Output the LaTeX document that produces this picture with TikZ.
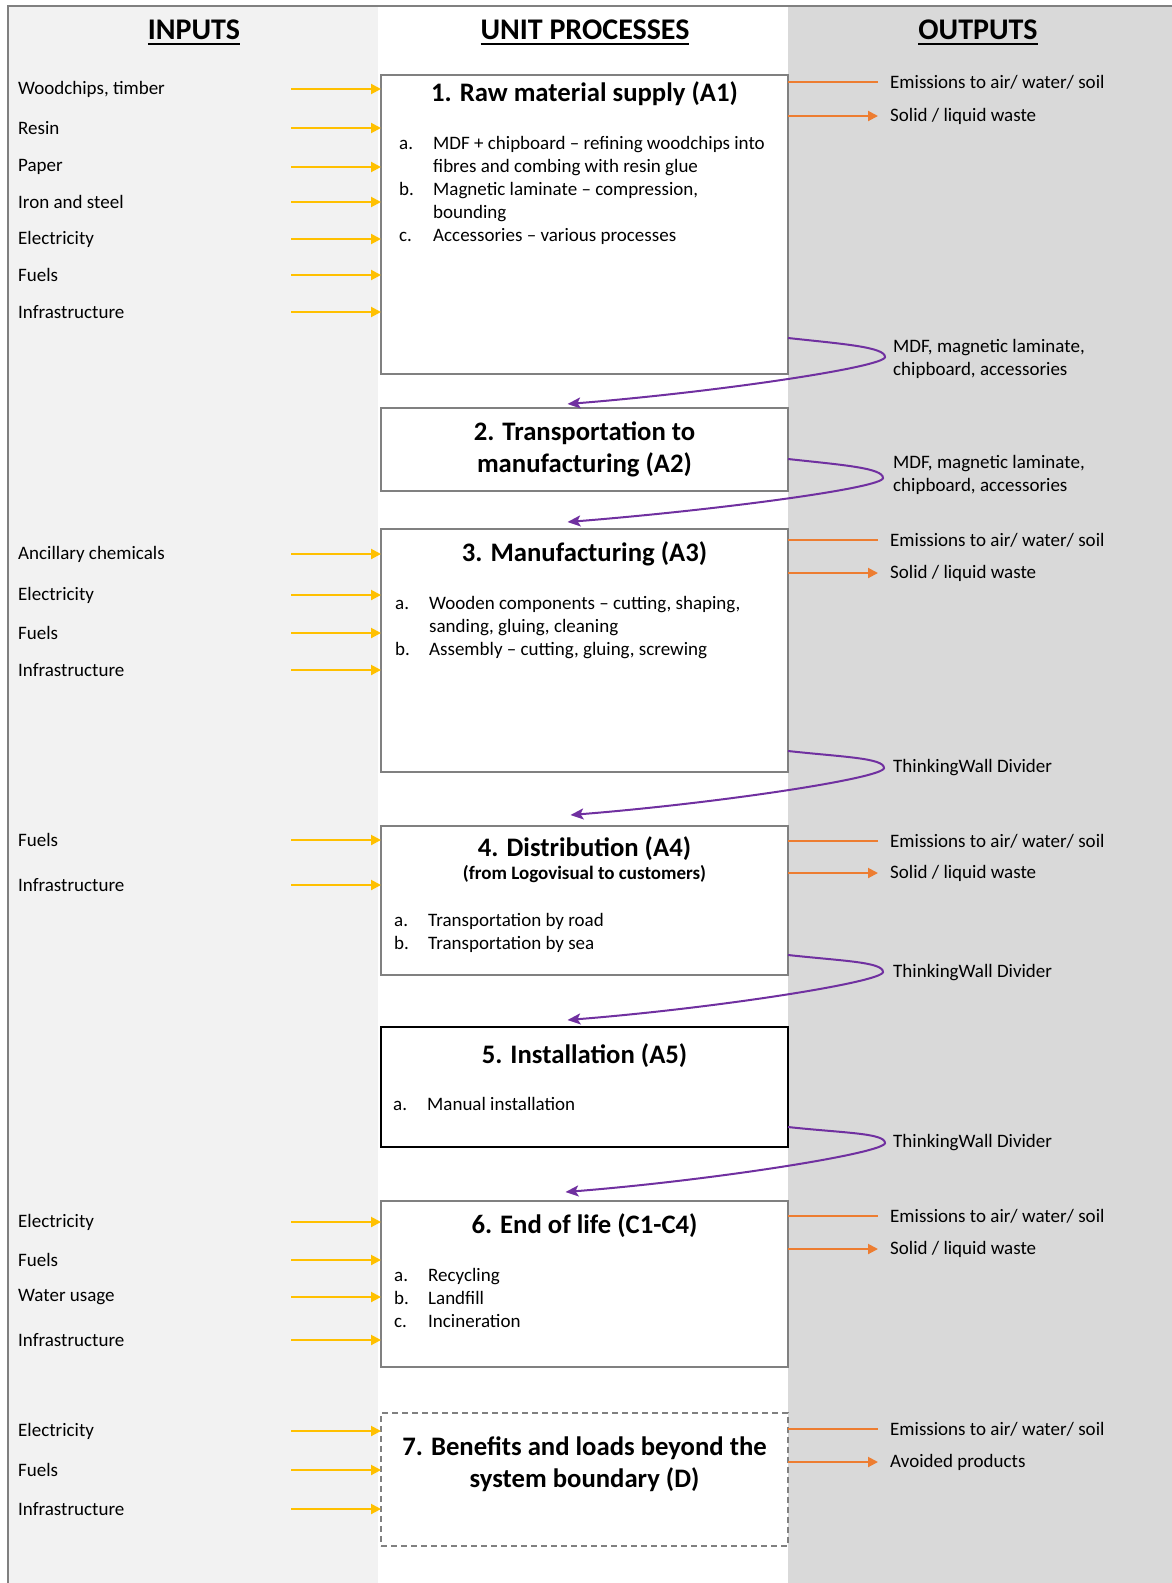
\documentclass[tikz,border=0pt]{standalone}
\usepackage{fontspec}
\setmainfont{Carlito}
\usetikzlibrary{positioning, arrows.meta}
\definecolor{feedyellow}{HTML}{FFC000}
\definecolor{emitorange}{HTML}{ED7D31}
\definecolor{flowpurple}{HTML}{7030A0}
\definecolor{boxgray}{HTML}{808080}
\definecolor{inbg}{HTML}{F2F2F2}
\definecolor{outbg}{HTML}{D9D9D9}
\newcommand{\hdrline}[1]{\setbox0\hbox{#1}\rlap{\rule[-6pt]{\wd0}{2pt}}\box0}
\newcommand{\itm}[1]{\makebox[34pt][l]{#1}}
\tikzset{
	proc/.style={
		rectangle,
		draw=boxgray,
		line width=2pt,
		fill=white,
		anchor=north west,
		inner sep=0pt,
		outer sep=0pt,
		minimum width=407pt,
	},
	head/.style={
		font=\fontsize{30}{36}\selectfont\bfseries,
		inner sep=0pt,
		anchor=base,
	},
	ptitle/.style={
		font=\fontsize{26.7}{32}\selectfont\bfseries,
		inner sep=0pt,
		anchor=base,
	},
	psub/.style={
		font=\fontsize{19}{23}\selectfont\bfseries,
		inner sep=0pt,
	},
	plist/.style={
		font=\fontsize{19}{23}\selectfont,
		inner sep=0pt,
		anchor=base west,
	},
	inlbl/.style={
		font=\fontsize{19}{23}\selectfont,
		inner sep=0pt,
		anchor=west,
	},
	outlbl/.style={
		font=\fontsize{19}{23}\selectfont,
		inner sep=0pt,
		anchor=west,
		align=left,
	},
	feed/.style={
		draw=feedyellow,
		line width=2pt,
		-{Triangle[length=10pt,width=10pt]},
	},
	emit/.style={
		draw=emitorange,
		line width=2pt,
	},
	waste/.style={
		draw=emitorange,
		line width=2pt,
		-{Triangle[length=10pt,width=10pt]},
	},
	flow/.style={
		draw=flowpurple,
		line width=2pt,
		-{Stealth[length=13pt,width=11pt,inset=3pt]},
	},
	frame/.style={
		draw=boxgray,
		line width=2pt,
	},
}
\begin{document}
\begin{tikzpicture}[x=1pt, y=1pt]
		\useasboundingbox (0,0) rectangle (1172,-1583);
		\fill [inbg] (8,-6) rectangle (378,-1583);
		\fill [outbg] (788,-6) rectangle (1172,-1583);
		\draw [frame] (8,-1583) -- (8,-6) -- (1172,-6);
		\node [head] (hin) at (194,-39) {\hdrline{INPUTS}};
		\node [head] (hunit) at (585,-39) {\hdrline{UNIT PROCESSES}};
		\node [head] (hout) at (978,-39) {\hdrline{OUTPUTS}};
		\node [proc, minimum height=299pt] (a1) at (381,-75) {};
		\node [proc, minimum height=83pt] (a2) at (381,-408) {};
		\node [proc, minimum height=243pt] (a3) at (381,-529) {};
		\node [proc, minimum height=149pt] (a4) at (381,-826) {};
		\node [proc, minimum height=120pt, draw=black] (a5) at (381,-1027) {};
		\node [proc, minimum height=166pt] (a6) at (381,-1201) {};
		\node [proc, minimum height=133pt, line width=1.5pt, dash pattern=on 6pt off 4pt] (a7) at (381,-1413) {};
		\node [ptitle] (t1) at ([yshift=-26pt]a1.north) {1. Raw material supply (A1)};
		\node [ptitle] (t2) at ([yshift=-32pt]a2.north) {\begin{tabular}[t]{@{}c@{}}2. Transportation to\\ manufacturing (A2)\end{tabular}};
		\node [ptitle] (t3) at ([yshift=-32pt]a3.north) {3. Manufacturing (A3)};
		\node [ptitle] (t4) at ([yshift=-30pt]a4.north) {4. Distribution (A4)};
		\node [psub, below=5pt of t4] (s4) {(from Logovisual to customers)};
		\node [ptitle] (t5) at ([yshift=-36pt]a5.north) {5. Installation (A5)};
		\node [ptitle] (t6) at ([yshift=-32pt]a6.north) {6. End of life (C1-C4)};
		\node [ptitle] (t7) at ([yshift=-42pt]a7.north) {\begin{tabular}[t]{@{}c@{}}7. Benefits and loads beyond the\\ system boundary (D)\end{tabular}};
		\node [plist] (l1) at ([xshift=18pt,yshift=-74pt]a1.north west) {\begin{tabular}[t]{@{}l@{}}\itm{a.}MDF + chipboard -- refining woodchips into\\ \itm{}fibres and combing with resin glue\\ \itm{b.}Magnetic laminate -- compression,\\ \itm{}bounding\\ \itm{c.}Accessories -- various processes\end{tabular}};
		\node [plist] (l3) at ([xshift=14pt,yshift=-80pt]a3.north west) {\begin{tabular}[t]{@{}l@{}}\itm{a.}Wooden components -- cutting, shaping,\\ \itm{}sanding, gluing, cleaning\\ \itm{b.}Assembly -- cutting, gluing, screwing\end{tabular}};
		\node [plist] (l4) at ([xshift=13pt,yshift=-100pt]a4.north west) {\begin{tabular}[t]{@{}l@{}}\itm{a.}Transportation by road\\ \itm{b.}Transportation by sea\end{tabular}};
		\node [plist] (l5) at ([xshift=12pt,yshift=-83pt]a5.north west) {\itm{a.}Manual installation};
		\node [plist] (l6) at ([xshift=13pt,yshift=-80pt]a6.north west) {\begin{tabular}[t]{@{}l@{}}\itm{a.}Recycling\\ \itm{b.}Landfill\\ \itm{c.}Incineration\end{tabular}};
		\node [inlbl] (i11) at (18,-89) {Woodchips, timber};
		\node [inlbl] (i12) at (18,-128) {Resin};
		\node [inlbl] (i13) at (18,-167) {Paper};
		\node [inlbl] (i14) at (18,-202) {Iron and steel};
		\node [inlbl] (i15) at (18,-239) {Electricity};
		\node [inlbl] (i16) at (18,-275) {Fuels};
		\node [inlbl] (i17) at (18,-312) {Infrastructure};
		\node [inlbl] (i31) at (18,-554) {Ancillary chemicals};
		\node [inlbl] (i32) at (18,-595) {Electricity};
		\node [inlbl] (i33) at (18,-633) {Fuels};
		\node [inlbl] (i34) at (18,-670) {Infrastructure};
		\node [inlbl] (i41) at (18,-840) {Fuels};
		\node [inlbl] (i42) at (18,-885) {Infrastructure};
		\node [inlbl] (i61) at (18,-1222) {Electricity};
		\node [inlbl] (i62) at (18,-1260) {Fuels};
		\node [inlbl] (i63) at (18,-1297) {Water usage};
		\node [inlbl] (i64) at (18,-1340) {Infrastructure};
		\node [inlbl] (i71) at (18,-1431) {Electricity};
		\node [inlbl] (i72) at (18,-1470) {Fuels};
		\node [inlbl] (i73) at (18,-1509) {Infrastructure};
		\node [outlbl] (o11) at (890,-82) {Emissions to air/ water/ soil};
		\node [outlbl] (o12) at (890,-116) {Solid / liquid waste};
		\node [outlbl] (o31) at (890,-540) {Emissions to air/ water/ soil};
		\node [outlbl] (o32) at (890,-573) {Solid / liquid waste};
		\node [outlbl] (o41) at (890,-841) {Emissions to air/ water/ soil};
		\node [outlbl] (o42) at (890,-873) {Solid / liquid waste};
		\node [outlbl] (o61) at (890,-1216) {Emissions to air/ water/ soil};
		\node [outlbl] (o62) at (890,-1249) {Solid / liquid waste};
		\node [outlbl] (o71) at (890,-1429) {Emissions to air/ water/ soil};
		\node [outlbl] (o72) at (890,-1462) {Avoided products};
		\node [outlbl] (p1) at (893,-359) {MDF, magnetic laminate,\\chipboard, accessories};
		\node [outlbl] (p2) at (893,-475) {MDF, magnetic laminate,\\chipboard, accessories};
		\node [outlbl] (p3) at (893,-768) {ThinkingWall Divider};
		\node [outlbl] (p4) at (893,-973) {ThinkingWall Divider};
		\node [outlbl] (p5) at (893,-1143) {ThinkingWall Divider};
		\draw [feed] ([xshift=-90pt]a1.west |- i11) -- (a1.west |- i11);
		\draw [feed] ([xshift=-90pt]a1.west |- i12) -- (a1.west |- i12);
		\draw [feed] ([xshift=-90pt]a1.west |- i13) -- (a1.west |- i13);
		\draw [feed] ([xshift=-90pt]a1.west |- i14) -- (a1.west |- i14);
		\draw [feed] ([xshift=-90pt]a1.west |- i15) -- (a1.west |- i15);
		\draw [feed] ([xshift=-90pt]a1.west |- i16) -- (a1.west |- i16);
		\draw [feed] ([xshift=-90pt]a1.west |- i17) -- (a1.west |- i17);
		\draw [feed] ([xshift=-90pt]a3.west |- i31) -- (a3.west |- i31);
		\draw [feed] ([xshift=-90pt]a3.west |- i32) -- (a3.west |- i32);
		\draw [feed] ([xshift=-90pt]a3.west |- i33) -- (a3.west |- i33);
		\draw [feed] ([xshift=-90pt]a3.west |- i34) -- (a3.west |- i34);
		\draw [feed] ([xshift=-90pt]a4.west |- i41) -- (a4.west |- i41);
		\draw [feed] ([xshift=-90pt]a4.west |- i42) -- (a4.west |- i42);
		\draw [feed] ([xshift=-90pt]a6.west |- i61) -- (a6.west |- i61);
		\draw [feed] ([xshift=-90pt]a6.west |- i62) -- (a6.west |- i62);
		\draw [feed] ([xshift=-90pt]a6.west |- i63) -- (a6.west |- i63);
		\draw [feed] ([xshift=-90pt]a6.west |- i64) -- (a6.west |- i64);
		\draw [feed] ([xshift=-90pt]a7.west |- i71) -- (a7.west |- i71);
		\draw [feed] ([xshift=-90pt]a7.west |- i72) -- (a7.west |- i72);
		\draw [feed] ([xshift=-90pt]a7.west |- i73) -- (a7.west |- i73);
		\draw [emit] (a1.east |- o11) -- ([xshift=90pt]a1.east |- o11);
		\draw [waste] (a1.east |- o12) -- ([xshift=90pt]a1.east |- o12);
		\draw [emit] (a3.east |- o31) -- ([xshift=90pt]a3.east |- o31);
		\draw [waste] (a3.east |- o32) -- ([xshift=90pt]a3.east |- o32);
		\draw [emit] (a4.east |- o41) -- ([xshift=90pt]a4.east |- o41);
		\draw [waste] (a4.east |- o42) -- ([xshift=90pt]a4.east |- o42);
		\draw [emit] (a6.east |- o61) -- ([xshift=90pt]a6.east |- o61);
		\draw [waste] (a6.east |- o62) -- ([xshift=90pt]a6.east |- o62);
		\draw [emit] (a7.east |- o71) -- ([xshift=90pt]a7.east |- o71);
		\draw [waste] (a7.east |- o72) -- ([xshift=90pt]a7.east |- o72);
		\draw [flow] ([yshift=36pt]a1.south east) .. controls +(55pt,-6pt) and +(0pt,10pt) .. ++(97pt,-19pt) .. controls +(0pt,-10pt) and +(150pt,12pt) .. ([xshift=-17pt,yshift=4pt]a2.north);
		\draw [flow] ([yshift=32pt]a2.south east) .. controls +(55pt,-6pt) and +(0pt,10pt) .. ++(95pt,-19pt) .. controls +(0pt,-10pt) and +(150pt,12pt) .. ([xshift=-17pt,yshift=7pt]a3.north);
		\draw [flow] ([yshift=21pt]a3.south east) .. controls +(55pt,-6pt) and +(0pt,10pt) .. ++(96pt,-17pt) .. controls +(0pt,-10pt) and +(150pt,12pt) .. ([xshift=-14pt,yshift=11pt]a4.north);
		\draw [flow] ([yshift=20pt]a4.south east) .. controls +(55pt,-6pt) and +(0pt,10pt) .. ++(95pt,-17pt) .. controls +(0pt,-10pt) and +(150pt,12pt) .. ([xshift=-17pt,yshift=7pt]a5.north);
		\draw [flow] ([yshift=20pt]a5.south east) .. controls +(55pt,-6pt) and +(0pt,10pt) .. ++(97pt,-16pt) .. controls +(0pt,-10pt) and +(150pt,12pt) .. ([xshift=-19pt,yshift=9pt]a6.north);
	\end{tikzpicture}
\end{document}
